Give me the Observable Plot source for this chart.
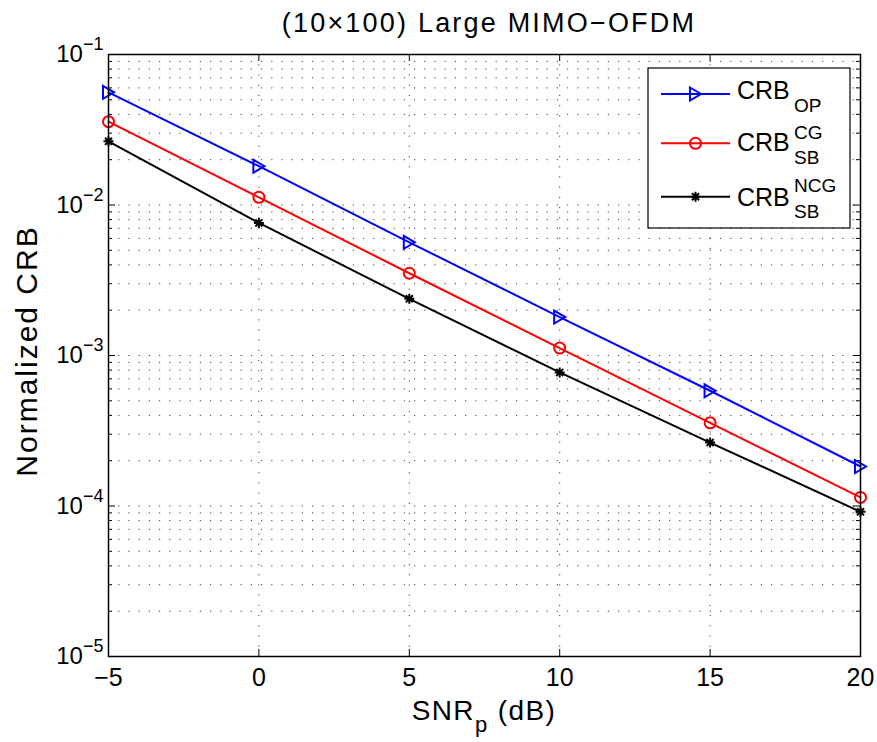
<!DOCTYPE html>
<html><head><meta charset="utf-8">
<script src="https://cdn.jsdelivr.net/npm/d3@7"></script>
<script src="https://cdn.jsdelivr.net/npm/@observablehq/plot@0.6"></script>
<style>
body{margin:0;background:#fff;}
svg{font-family:"Liberation Sans",Arial,Helvetica,sans-serif;display:block;}
</style>
</head><body><div id="chart"></div>
<script>
// ---- data ----
const snr = [-5, 0, 5, 10, 15, 20];
const crbOP  = [0.0561, 0.0181, 0.00565, 0.00180, 0.000583, 0.000183];
const crbCG  = [0.0358, 0.01125, 0.00352, 0.00112, 0.000357, 0.000114];
const crbNCG = [0.0265, 0.0076, 0.00238, 0.000772, 0.000264, 0.0000915];
const xTicks = [-5, 0, 5, 10, 15, 20];
const yDecades = [1e-5, 1e-4, 1e-3, 1e-2, 1e-1];
const titleText = "(10×100) Large MIMO−OFDM";
const yLabelText = "Normalized CRB";
const legendMain = ["CRB", "CRB", "CRB"];
const legendSub = ["OP", "SB", "SB"];
const legendSup = [null, "CG", "NCG"];
const colors = ["#0000ff", "#ff0000", "#000000"];

// ---- layout ----
const W = 877, H = 742;
const mL = 108, mR = 17, mT = 54, mB = 86;
const plotW = W - mL - mR, plotH = H - mT - mB;

// custom MATLAB-like markers
const triRight = {draw(ctx, size){ const r = Math.sqrt(size/Math.PI);
  ctx.moveTo(-r*0.85, -r); ctx.lineTo(r*0.85, 0); ctx.lineTo(-r*0.85, r); ctx.closePath(); }};
const star8 = {draw(ctx, size){ const r = Math.sqrt(size/Math.PI); const d = r*0.7071;
  ctx.moveTo(-r,0); ctx.lineTo(r,0); ctx.moveTo(0,-r); ctx.lineTo(0,r);
  ctx.moveTo(-d,-d); ctx.lineTo(d,d); ctx.moveTo(-d,d); ctx.lineTo(d,-d); }};
const circ = d3.symbolCircle;
const symbols = [triRight, circ, star8];
const symR = [6.5, 5.5, 5];

const rows = (vals, s) => snr.map((x, i) => ({snr: x, crb: vals[i], series: s}));
const series = [rows(crbOP, "OP"), rows(crbCG, "CG"), rows(crbNCG, "NCG")];

const minorY = [];
for (let i = 0; i < yDecades.length - 1; i++) for (let m = 2; m <= 9; m++) minorY.push(m * yDecades[i]);
const gridY = yDecades.concat(minorY);

const gridStyle = {stroke: "#000", strokeWidth: 1, strokeDasharray: "1.2,9", strokeOpacity: 0.75};
const fmtX = d => d < 0 ? "−" + (-d) : String(d);

const marks = [
  Plot.ruleY(gridY, {y: d => d, ...gridStyle}),
  Plot.ruleX(xTicks, {x: d => d, ...gridStyle}),
  Plot.tickY(yDecades, {y: d => d, insetRight: plotW - 7, stroke: "#000"}),
  Plot.tickY(yDecades, {y: d => d, insetLeft: plotW - 7, stroke: "#000"}),
  Plot.tickY(minorY, {y: d => d, insetRight: plotW - 4, stroke: "#000"}),
  Plot.tickY(minorY, {y: d => d, insetLeft: plotW - 4, stroke: "#000"}),
  Plot.tickX(xTicks, {x: d => d, insetTop: plotH - 7, stroke: "#000"}),
  Plot.tickX(xTicks, {x: d => d, insetBottom: plotH - 7, stroke: "#000"})
];
series.forEach((data, i) => {
  marks.push(Plot.line(data, {x: "snr", y: "crb", stroke: colors[i], strokeWidth: 2}));
});
series.forEach((data, i) => {
  marks.push(Plot.dot(data, {x: "snr", y: "crb", symbol: symbols[i], r: symR[i], stroke: colors[i], fill: "none", strokeWidth: 2}));
});
marks.push(
  Plot.frame({stroke: "#000", strokeWidth: 1.5}),
  Plot.axisX({ticks: xTicks, tickSize: 0, tickPadding: 12, fontSize: 25, tickFormat: fmtX, label: null}),
  Plot.axisY({ticks: yDecades, tickSize: 0, tickPadding: 5, fontSize: 24, tickFormat: d => "10^" + Math.round(Math.log10(d)), label: null})
);

const svgEl = Plot.plot({
  width: W, height: H,
  marginLeft: mL, marginRight: mR, marginTop: mT, marginBottom: mB,
  style: {fontFamily: "'Liberation Sans', Arial, Helvetica, sans-serif", fontSize: "24px", color: "#000", background: "#fff"},
  x: {domain: [-5, 20]},
  y: {type: "log", domain: [1e-5, 1e-1]},
  marks
});
document.getElementById("chart").appendChild(svgEl);
const svg = d3.select(svgEl);

// superscript exponents on y tick labels
svg.selectAll('g[aria-label="y-axis tick label"] text').each(function(){
  const t = this.textContent;
  const exp = t.split("^")[1].replace("-", "−");
  const sel = d3.select(this);
  sel.text(null);
  sel.append("tspan").text("10");
  sel.append("tspan").attr("dy", -12).attr("font-size", 18).text(exp);
});

// title
svg.append("text").attr("x", 489).attr("y", 32).attr("text-anchor", "middle")
  .attr("font-size", 27).attr("letter-spacing", 2.2).attr("fill", "#000").text(titleText);

// y label
svg.append("text").attr("transform", "translate(37,351) rotate(-90)").attr("text-anchor", "middle")
  .attr("font-size", 30).attr("letter-spacing", 2).attr("fill", "#000").text(yLabelText);

// x label
const xl = svg.append("text").attr("x", 484).attr("y", 720).attr("text-anchor", "middle")
  .attr("font-size", 28).attr("letter-spacing", 1.4).attr("fill", "#000");
xl.append("tspan").text("SNR");
xl.append("tspan").attr("font-size", 22).attr("dy", 12).text("p");
xl.append("tspan").attr("dy", -12).text(" (dB)");

// legend
const lg = svg.append("g").attr("text-anchor", "start");
lg.append("rect").attr("x", 648).attr("y", 68).attr("width", 202).attr("height", 160)
  .attr("fill", "#fff").attr("stroke", "#000").attr("stroke-width", 1.2);
const lineY = [94, 143.3, 196.7];
const mainBase = [99, 150.7, 205.7];
const subBase = [111.7, 164.3, 217.7];
const supBase = [null, 139, 192.3];
for (let i = 0; i < 3; i++) {
  lg.append("line").attr("x1", 661).attr("x2", 730).attr("y1", lineY[i]).attr("y2", lineY[i])
    .attr("stroke", colors[i]).attr("stroke-width", 2);
  lg.append("path").attr("d", d3.symbol(symbols[i], Math.PI * symR[i] * symR[i])())
    .attr("transform", `translate(695.5,${lineY[i]})`)
    .attr("fill", "none").attr("stroke", colors[i]).attr("stroke-width", 2);
  lg.append("text").attr("x", 737).attr("y", mainBase[i]).attr("text-anchor", "start").attr("font-size", 25).attr("fill", "#000").text(legendMain[i]);
  lg.append("text").attr("x", 794).attr("y", subBase[i]).attr("text-anchor", "start").attr("font-size", 19).attr("fill", "#000").text(legendSub[i]);
  if (legendSup[i]) lg.append("text").attr("x", 794).attr("y", supBase[i]).attr("text-anchor", "start").attr("font-size", 19).attr("fill", "#000").text(legendSup[i]);
}
</script>
</body></html>
